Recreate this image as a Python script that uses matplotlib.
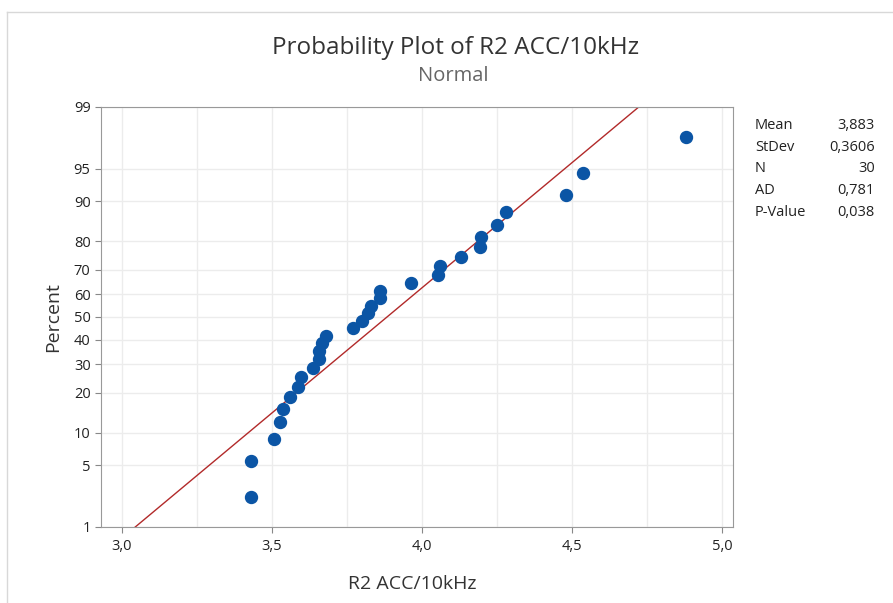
import numpy as np
import matplotlib
matplotlib.use('Agg')
import matplotlib.pyplot as plt
from matplotlib.lines import Line2D
from statistics import NormalDist

# sorted sample values
values = [3.43, 3.43, 3.505, 3.527, 3.536, 3.559, 3.586, 3.595, 3.636, 3.657,
          3.658, 3.667, 3.680, 3.77, 3.80, 3.82, 3.83, 3.86, 3.86, 3.963,
          4.052, 4.061, 4.129, 4.192, 4.197, 4.249, 4.281, 4.478, 4.536, 4.88]
# plotting positions in percent
percent = [2.30, 5.59, 8.88, 12.17, 15.46, 18.75, 22.04, 25.33, 28.62, 31.91,
           35.20, 38.49, 41.78, 45.07, 48.36, 51.64, 54.93, 58.22, 61.51, 64.80,
           68.09, 71.38, 74.67, 77.96, 81.25, 84.54, 87.83, 91.12, 94.41, 97.70]

mean = 3.883
stdev = 0.3606
stat_names = ['Mean', 'StDev', 'N', 'AD', 'P-Value']
stat_values = ['3,883', '0,3606', '30', '0,781', '0,038']

y_ticks = [1, 5, 10, 20, 30, 40, 50, 60, 70, 80, 90, 95, 99]
x_ticks = [3.0, 3.5, 4.0, 4.5, 5.0]
x_ticklabels = ['3,0', '3,5', '4,0', '4,5', '5,0']

plt.rcParams['font.family'] = ['Open Sans', 'DejaVu Sans']

nd = NormalDist()
_ppf = np.vectorize(nd.inv_cdf, otypes=[float])
_cdf = np.vectorize(nd.cdf, otypes=[float])

def forward(p):
    p = np.clip(np.asarray(p, dtype=float) / 100.0, 1e-12, 1 - 1e-12)
    return _ppf(p)

def inverse(z):
    return _cdf(np.asarray(z, dtype=float)) * 100.0

W, H = 893, 603
fig = plt.figure(figsize=(W / 100, H / 100), dpi=100)
ax = fig.add_axes([101 / W, 1 - 527 / H, (733 - 101) / W, (527 - 107) / H])
ax.set_yscale('function', functions=(forward, inverse))

# fitted normal line
line_p = np.array([1.0, 99.0])
line_x = [mean + stdev * nd.inv_cdf(p / 100) for p in line_p]
ax.plot(line_x, line_p, color='#b22a2a', lw=1.0, zorder=2)

ax.plot(values, percent, 'o', color='#0b55a5', ms=8.6, mec='#0b55a5', zorder=3)

ax.set_xlim(2.93, 5.036)
ax.set_ylim(1, 99)
ax.set_yticks(y_ticks)
ax.set_yticklabels([str(t) for t in y_ticks])
ax.set_xticks(x_ticks)
ax.set_xticklabels(x_ticklabels)
ax.set_xticks(np.arange(3.0, 5.01, 0.25), minor=True)
ax.yaxis.set_minor_locator(matplotlib.ticker.NullLocator())

ax.grid(True, which='both', axis='x', color='#ececec', lw=1.0)
ax.grid(True, which='major', axis='y', color='#ececec', lw=1.0)
ax.set_axisbelow(True)
ax.tick_params(which='minor', length=0)
ax.tick_params(which='major', length=4, color='#888888', labelsize=10.5,
               labelcolor='#222222')
ax.tick_params(axis='x', pad=5)
for s in ax.spines.values():
    s.set_color('#999999')

ax.set_xlabel('R2 ACC/10kHz', fontsize=14, color='#333333', va='baseline')
ax.xaxis.set_label_coords((412 - 101) / 632, -(589 - 527) / 420)
ax.set_ylabel('Percent', fontsize=14, color='#333333', va='center', ha='center')
ax.yaxis.set_label_coords((53 - 101) / 632, 0.5)

fig.text(455.5 / W, 1 - 54.5 / H, 'Probability Plot of R2 ACC/10kHz', ha='center',
         va='baseline', fontsize=17.5, color='#333333')
fig.text(453 / W, 1 - 81 / H, 'Normal', ha='center', va='baseline',
         fontsize=14.5, color='#666666')

for i, (n, v) in enumerate(zip(stat_names, stat_values)):
    y = 1 - (126 + i * 21.5) / H
    fig.text(755 / W, y, n, ha='left', va='center', fontsize=10.5, color='#222222')
    fig.text(875 / W, y, v, ha='right', va='center', fontsize=10.5, color='#222222')

# outer frame
fig.add_artist(Line2D([7 / W, 7 / W], [0, 1 - 12 / H], color='#d8d8d8', lw=1,
                      transform=fig.transFigure))
fig.add_artist(Line2D([7 / W, 1], [1 - 12 / H, 1 - 12 / H], color='#d8d8d8', lw=1,
                      transform=fig.transFigure))

fig.savefig('out.png', dpi=100)
